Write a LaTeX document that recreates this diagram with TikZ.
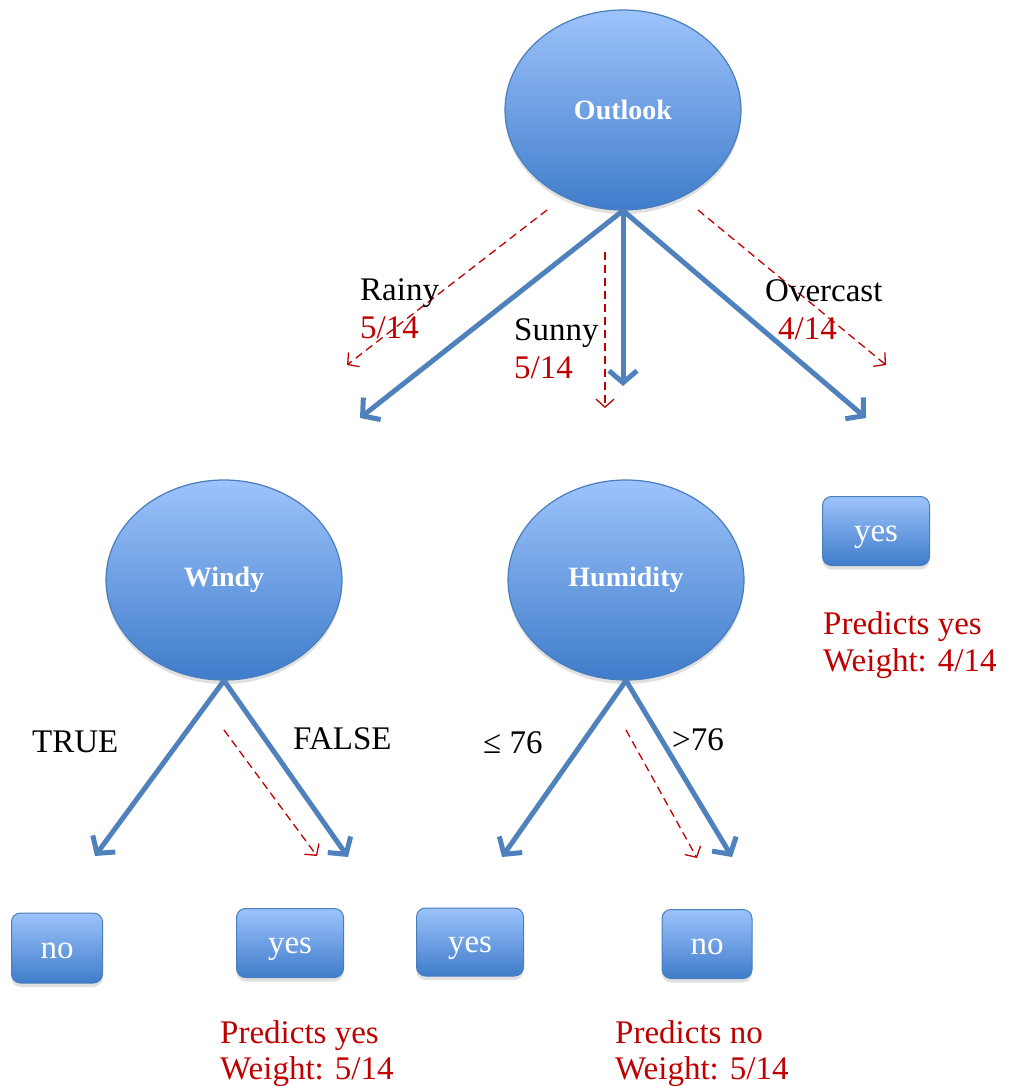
\documentclass[tikz,border=0pt]{standalone}
\usepackage{fontspec}
\setmainfont{Liberation Serif}
\usetikzlibrary{shapes.geometric,arrows.meta,shadows}
\definecolor{nodetop}{HTML}{9DC3FB}
\definecolor{nodebot}{HTML}{3F7CCB}
\definecolor{nodeedge}{HTML}{4A7EBB}
\definecolor{arrblue}{HTML}{4F81BD}
\definecolor{wred}{HTML}{C00000}
\begin{document}
\begin{tikzpicture}[x=1pt,y=-1pt,
  splitnode/.style={ellipse, draw=nodeedge, line width=1.2pt, top color=nodetop, bottom color=nodebot,
    minimum width=236pt, minimum height=200pt, inner sep=0pt, text=white,
    font=\fontsize{28}{32}\selectfont\bfseries,
    drop shadow={shadow xshift=0pt, shadow yshift=-4pt, opacity=0.2, fill=black!60}},
  leaf/.style={rectangle, rounded corners=9pt, draw=nodeedge, line width=1pt, top color=nodetop, bottom color=nodebot,
    inner sep=0pt, text=white, font=\fontsize{33}{37}\selectfont, text height=20pt, text depth=0pt,
    drop shadow={shadow xshift=0pt, shadow yshift=-4pt, opacity=0.2, fill=black!60}},
  branch/.style={draw=arrblue, line width=5pt, -{Straight Barb[length=12pt,width=28pt]}},
  weightarrow/.style={draw=wred, line width=1.3pt, dash pattern=on 8pt off 5pt, -{Straight Barb[length=8pt,width=18pt]}},
  lbl/.style={font=\fontsize{33}{37}\selectfont, text=black, inner sep=0pt, anchor=base west},
  wlbl/.style={font=\fontsize{33}{37}\selectfont, text=wred, inner sep=0pt, anchor=base west},
]
\useasboundingbox (0,0) rectangle (1010,1086);

% split nodes
\node[splitnode] (outlook) at (623,110) {Outlook};
\node[splitnode] (windy) at (224,580) {Windy};
\node[splitnode] (humid) at (626,580) {Humidity};

% leaves
\node[leaf, minimum width=107pt, minimum height=69pt] (yesO) at (876,531) {yes};
\node[leaf, minimum width=91pt, minimum height=70pt] (noT) at (57,948) {no};
\node[leaf, minimum width=107pt, minimum height=69pt] (yesF) at (290,943) {yes};
\node[leaf, minimum width=107pt, minimum height=68pt] (yesL) at (470,942) {yes};
\node[leaf, minimum width=90pt, minimum height=69pt] (noG) at (707,944) {no};

% arrow end coordinates
\coordinate (rainyend) at (360,418);
\coordinate (sunnyend) at (623,386);
\coordinate (overend) at (866,418);
\coordinate (trueend) at (95,856);
\coordinate (falseend) at (348,857);
\coordinate (leend) at (502,857);
\coordinate (gtend) at (732,857);

\coordinate (wr1s) at (547,210); \coordinate (wr1e) at (347,365);
\coordinate (wr2s) at (605,252); \coordinate (wr2e) at (605,408);
\coordinate (wr3s) at (698,210); \coordinate (wr3e) at (886,365);
\coordinate (wr4s) at (224,730); \coordinate (wr4e) at (317,856);
\coordinate (wr5s) at (626,730); \coordinate (wr5e) at (697,858);

% blue branches
\draw[branch] (outlook.south) -- (rainyend);
\draw[branch] (outlook.south) -- (sunnyend);
\draw[branch] (outlook.south) -- (overend);
\draw[branch] (windy.south) -- (trueend);
\draw[branch] (windy.south) -- (falseend);
\draw[branch] (humid.south) -- (leend);
\draw[branch] (humid.south) -- (gtend);

% red weight arrows
\draw[weightarrow] (wr1s) -- (wr1e);
\draw[weightarrow] (wr2s) -- (wr2e);
\draw[weightarrow] (wr3s) -- (wr3e);
\draw[weightarrow] (wr4s) -- (wr4e);
\draw[weightarrow] (wr5s) -- (wr5e);

% branch labels
\node[lbl] (lrainy) at (360,300) {Rainy};
\node[wlbl] (wrainy) at (360,338) {5/14};
\node[lbl] (lsunny) at (514,340) {Sunny};
\node[wlbl] (wsunny) at (514,378) {5/14};
\node[lbl] (lover) at (765,301) {Overcast};
\node[wlbl] (wover) at (778,339) {4/14};
\node[lbl] (ltrue) at (32,752) {TRUE};
\node[lbl] (lfalse) at (293,749) {FALSE};
\node[lbl] (lle) at (483,753) {≤ 76};
\node[lbl] (lgt) at (672,750) {>76};

% predictions
\node[wlbl] (p1a) at (823,634) {Predicts yes};
\node[wlbl] (p1b) at (823,671) {Weight: 4/14};
\node[wlbl] (p2a) at (220,1043) {Predicts yes};
\node[wlbl] (p2b) at (220,1079) {Weight: 5/14};
\node[wlbl] (p3a) at (615,1043) {Predicts no};
\node[wlbl] (p3b) at (615,1079) {Weight: 5/14};
\end{tikzpicture}
\end{document}
